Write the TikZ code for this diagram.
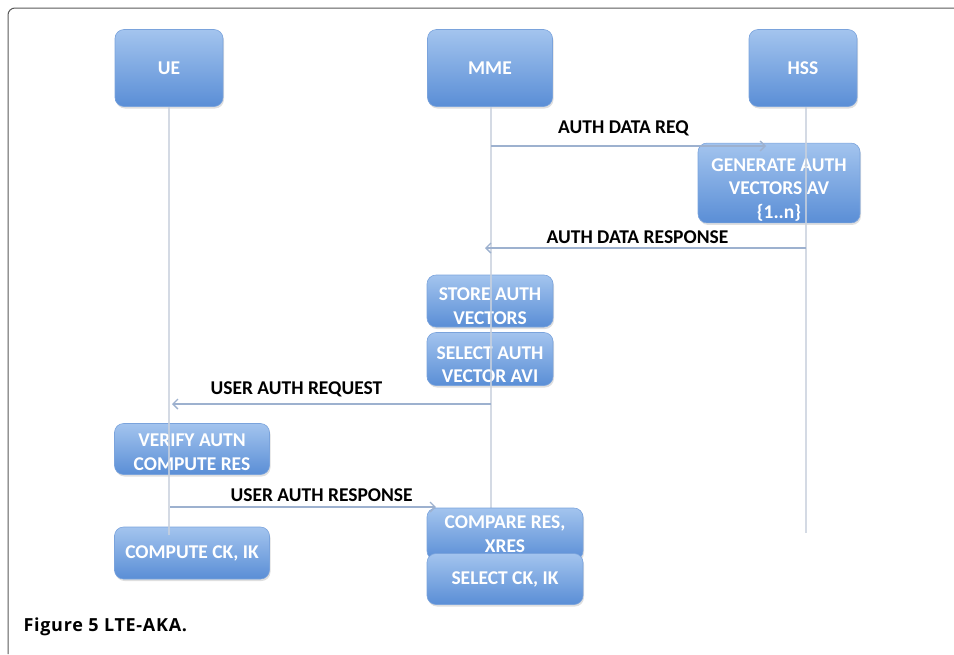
\documentclass[tikz,border=0pt]{standalone}
\usepackage{fontspec}
\setmainfont{Carlito}
\newfontfamily\capfont[LetterSpace=4]{Open Sans}
\usetikzlibrary{arrows.meta, positioning, shadows}

\definecolor{boxtop}{HTML}{A3C4EE}
\definecolor{boxbot}{HTML}{5A8ED6}
\definecolor{boxline}{HTML}{7AA3DC}
\definecolor{msgline}{HTML}{9DB1CF}
\definecolor{lifeline}{HTML}{C9D1DD}

% invisible strut to push the first line down
\newcommand{\lowr}[1]{\rule{0pt}{#1}}

\begin{document}
\begin{tikzpicture}[
        x=1pt, y=-1pt,
        font=\fontsize{19.5}{23.5}\selectfont\bfseries,
        box/.style={draw=boxline, line width=0.6pt, rounded corners=9pt, align=center,
            top color=boxtop, bottom color=boxbot, text=white, inner sep=2pt,
            drop shadow={opacity=0.25, shadow xshift=1pt, shadow yshift=-2pt}},
        head/.style={box, minimum width=108pt, minimum height=77pt},
        msg/.style={-{Straight Barb[length=5pt, width=10pt]}, msgline, line width=1.4pt},
        life/.style={lifeline, line width=1.4pt, opacity=0.8},
        lbl/.style={text=black}
    ]

    \useasboundingbox (0,0) rectangle (954,654);
    \draw[black!65, line width=1pt, rounded corners=7pt] (8,654) -- (8,8) -- (954,8);

    % Top: the three parties
    \node[head] (ue) at (169,68) {UE};
    \node[head, minimum width=125pt] (mme) at (490,68) {MME};
    \node[head] (hss) at (803,68) {HSS};

    % HSS side
    \node[box, minimum width=162pt, minimum height=77pt] (gen) at (779,183) {\lowr{26pt}GENERATE AUTH\\ VECTORS AV\\ \{1..n\}};

    % MME side
    \node[box, minimum width=126pt, minimum height=52pt] (store) at (490,301) {\lowr{23pt}STORE AUTH\\ VECTORS};
    \node[box, minimum width=126pt, minimum height=53pt] (select) at (490,359) {\lowr{24pt}SELECT AUTH\\ VECTOR AVI};

    % UE side
    \node[box, minimum width=155pt, minimum height=51pt] (verify) at (192,449) {\lowr{19pt}VERIFY AUTN\\ COMPUTE RES};
    \node[box, minimum width=155pt, minimum height=52pt] (ckik) at (192,553) {COMPUTE CK, IK};

    % Lifelines
    \draw[life] (ue.south) -- ++(0,428) coordinate (ueend);
    \draw[life] (mme.south) ++(1,0) -- ++(0,446) coordinate (mmeend);
    \draw[life] (hss.south) ++(3,0) -- ++(0,426) coordinate (hssend);

    % MME compare / select (over the MME lifeline)
    \node[box, minimum width=156pt, minimum height=52pt] (compare) at (505,534) {COMPARE RES,\\ XRES};
    \node[box, minimum width=156pt, minimum height=51pt] (selck) at (505,579) {SELECT CK, IK};

    % Messages
    \coordinate (reqa) at (491,146);
    \coordinate (reqb) at (766,146);
    \draw[msg] (reqa) -- node[lbl, above=6pt, xshift=-5pt]{AUTH DATA REQ} (reqb);

    \coordinate (respa) at (806,248);
    \coordinate (respb) at (485,248);
    \draw[msg] (respa) -- node[lbl, above=0pt, xshift=-8pt]{AUTH DATA RESPONSE} (respb);

    \coordinate (uareqa) at (491,404);
    \coordinate (uareqb) at (172,404);
    \draw[msg] (uareqa) -- node[lbl, above=3pt, pos=0.61]{USER AUTH REQUEST} (uareqb);

    \coordinate (uarespa) at (170,507);
    \coordinate (uarespb) at (436,507);
    \draw[msg] (uarespa) -- node[lbl, above=1pt, pos=0.57]{USER AUTH RESPONSE} (uarespb);

    % Caption
    \node[anchor=west, font=\capfont\fontsize{18}{20}\selectfont\bfseries] (caption) at (20,627) {Figure 5 LTE-AKA.};

\end{tikzpicture}
\end{document}
